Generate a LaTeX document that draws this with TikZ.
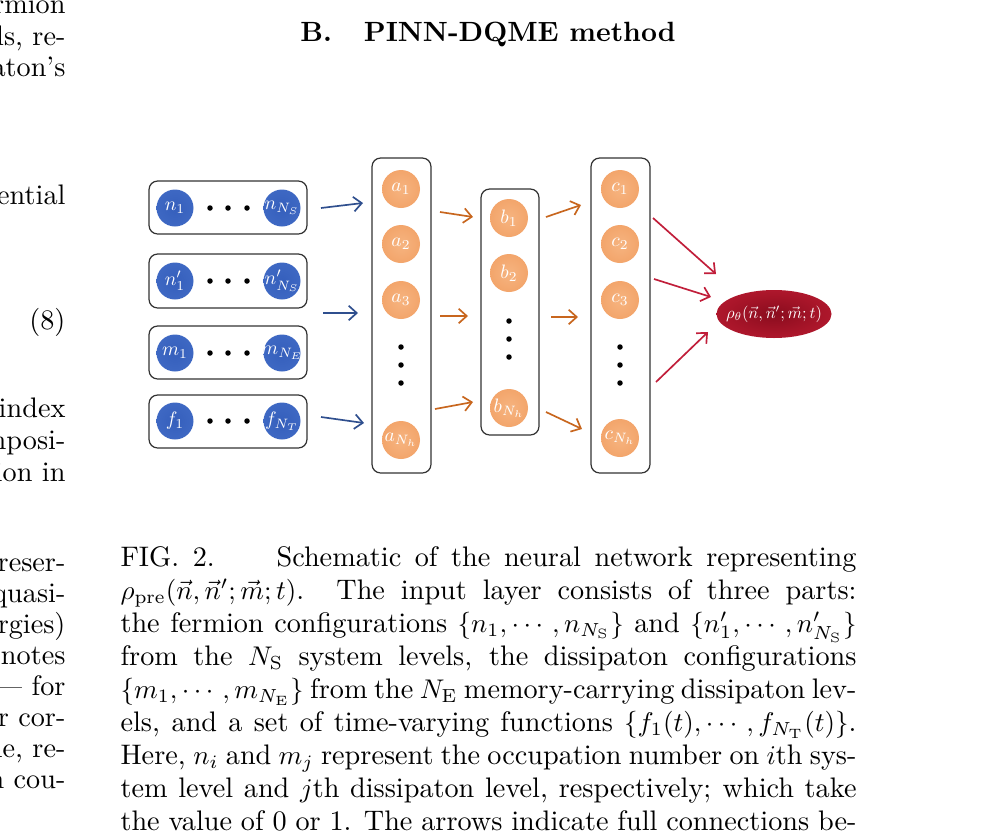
\documentclass[tikz,border=0pt]{standalone}
\usepackage{amsmath}
\usepackage{graphicx}
\usetikzlibrary{arrows.meta,shapes.geometric}
\newlength\pu \setlength\pu{0.37pt}
\definecolor{bc0}{HTML}{355FBC}
\definecolor{bc1}{HTML}{3E68C3}
\definecolor{bc2}{HTML}{567BCE}
\definecolor{bc3}{HTML}{809CDB}
\definecolor{bc4}{HTML}{BCCBED}
\definecolor{oc0}{HTML}{F6B480}
\definecolor{oc1}{HTML}{F2A267}
\definecolor{oc2}{HTML}{F09A5C}
\definecolor{oc3}{HTML}{F5BE95}
\definecolor{rc0}{HTML}{8A0C1E}
\definecolor{rc1}{HTML}{A81529}
\definecolor{rc2}{HTML}{C21F37}
\definecolor{rc3}{HTML}{CE3A50}
\definecolor{arrblue}{HTML}{2F4F8E}
\definecolor{arrorange}{HTML}{C8661E}
\definecolor{arrred}{HTML}{C11E3A}
\definecolor{boxgray}{HTML}{333333}
\pgfdeclareradialshading{blueball}{\pgfpointorigin}{color(0bp)=(bc0);color(25bp)=(bc1);color(40bp)=(bc2);color(47bp)=(bc3);color(50bp)=(bc4)}
\pgfdeclareradialshading{orangeball}{\pgfpointorigin}{color(0bp)=(oc0);color(30bp)=(oc1);color(46bp)=(oc2);color(50bp)=(oc3)}
\pgfdeclareradialshading{redball}{\pgfpointorigin}{color(0bp)=(rc0);color(20bp)=(rc1);color(42bp)=(rc2);color(50bp)=(rc3)}
\newcommand\bodyfont{\fontsize{10.45}{12.5}\selectfont}
\newcommand\capfont{\fontsize{10.45}{12.5}\selectfont}
\newcommand\capline[1]{\hbox to 736\pu{\capfont #1}}
\newcommand\zb[1]{\makebox[0pt]{\scalebox{0.72}{\fontsize{10}{12}\selectfont$#1$}}}
\tikzset{
  bball/.style={circle, minimum size=37\pu, inner sep=0pt, shading=blueball, text=white},
  oball/.style={circle, minimum size=38\pu, inner sep=0pt, shading=orangeball, text=white},
  lbox/.style={draw=boxgray, line width=0.45pt, rounded corners=3.2pt, inner sep=0pt},
  blackdot/.style={circle, fill=black, inner sep=0pt, minimum size=5.5\pu},
  conn/.style={line width=0.62pt, -{Straight Barb[length=3pt,width=5.4pt,line width=0.62pt]}},
  barr/.style={conn, draw=arrblue},
  oarr/.style={conn, draw=arrorange},
  rarr/.style={conn, draw=arrred},
  bodytext/.style={anchor=base east, inner sep=0pt, font=\bodyfont},
  capl/.style={anchor=base west, inner sep=0pt},
}
\begin{document}
\begin{tikzpicture}[x=\pu, y=-\pu]
\useasboundingbox (0,0) rectangle (1005,837);
\fill[white] (0,0) rectangle (1005,837);

% left column fragments
\node[bodytext] (l1) at (66,13) {fermion};
\node[bodytext] (l2) at (66,45) {levels, re-};
\node[bodytext] (l3) at (66,76) {dissipaton's};
\node[bodytext] (l4) at (66,204) {exponential};
\node[bodytext] (l5) at (66,329) {(8)};
\node[bodytext] (l6) at (66,417) {index};
\node[bodytext] (l7) at (66,449) {decomposi-};
\node[bodytext] (l8) at (66,481) {tion in};
\node[bodytext] (l9) at (66,571) {preser-};
\node[bodytext] (l10) at (66,602) {quasi-};
\node[bodytext] (l11) at (66,633) {energies)};
\node[bodytext] (l12) at (66,664) {denotes};
\node[bodytext] (l13) at (66,695) {--- for};
\node[bodytext] (l14) at (66,726) {or cor-};
\node[bodytext] (l15) at (66,757) {one, re-};
\node[bodytext] (l16) at (66,788) {in cou-};

% heading
\node[anchor=base, inner sep=0pt, font=\fontsize{10.3}{12}\selectfont\bfseries] (head) at (488,41) {B.\hspace{1.15em}PINN-DQME method};

% input boxes
\node[lbox, minimum width=158\pu, minimum height=53\pu] (box1) at (228,207.5) {};
\node[lbox, minimum width=158\pu, minimum height=54\pu] (box2) at (228,281) {};
\node[lbox, minimum width=158\pu, minimum height=53\pu] (box3) at (228,352.5) {};
\node[lbox, minimum width=158\pu, minimum height=53\pu] (box4) at (228,421.5) {};

\node[bball] (n1) at (175,208) {\zb{n_1}};
\node[bball] (nN) at (282,208) {\zb{n_{N_S}}};
\node[bball] (np1) at (175,281) {\zb{n'_1}};
\node[bball] (npN) at (282,281) {\zb{n'_{N_S}}};
\node[bball] (m1) at (175,353) {\zb{m_1}};
\node[bball] (mN) at (282,353) {\zb{m_{N_E}}};
\node[bball] (f1) at (175,421) {\zb{f_1}};
\node[bball] (fN) at (282,421) {\zb{f_{N_T}}};
\foreach \yy/\k in {208/a,281/b,353/c,421/d}{
  \node[blackdot] (d\k1) at (210,\yy) {};
  \node[blackdot] (d\k2) at (228,\yy) {};
  \node[blackdot] (d\k3) at (247,\yy) {};
}

% hidden layers
\node[lbox, minimum width=59\pu, minimum height=315\pu] (boxa) at (401.5,315.5) {};
\node[lbox, minimum width=58\pu, minimum height=246\pu] (boxb) at (510,312) {};
\node[lbox, minimum width=59\pu, minimum height=315\pu] (boxc) at (620.5,315.5) {};

\node[oball] (a1) at (401,189) {\zb{a_1}};
\node[oball] (a2) at (401,244) {\zb{a_2}};
\node[oball] (a3) at (401,300) {\zb{a_3}};
\node[oball] (aN) at (401,440) {\zb{a_{N_h}}};
\node[blackdot] (ad1) at (401,347) {};
\node[blackdot] (ad2) at (401,365) {};
\node[blackdot] (ad3) at (401,383) {};

\node[oball] (b1) at (509,218) {\zb{b_1}};
\node[oball] (b2) at (509,273) {\zb{b_2}};
\node[oball] (bN) at (509,408) {\zb{b_{N_h}}};
\node[blackdot] (bd1) at (509,321) {};
\node[blackdot] (bd2) at (509,339) {};
\node[blackdot] (bd3) at (509,357) {};

\node[oball] (c1) at (620,189) {\zb{c_1}};
\node[oball] (c2) at (620,244) {\zb{c_2}};
\node[oball] (c3) at (620,300) {\zb{c_3}};
\node[oball] (cN) at (620,438) {\zb{c_{N_h}}};
\node[blackdot] (cd1) at (620,347) {};
\node[blackdot] (cd2) at (620,365) {};
\node[blackdot] (cd3) at (620,383) {};

% output
\node[ellipse, minimum width=115\pu, minimum height=48\pu, inner sep=0pt, shading=redball, text=white] (out) at (774,314) {\makebox[0pt]{\resizebox{35.5pt}{!}{\fontsize{10}{12}\selectfont$\rho_\theta(\vec{n},\vec{n}';\vec{m};t)$}}};

% arrow end coordinates
\coordinate (bA1) at (321,208); \coordinate (bB1) at (363,203);
\coordinate (bA2) at (323,313); \coordinate (bB2) at (358,313);
\coordinate (bA3) at (321,417); \coordinate (bB3) at (364,423);
\coordinate (oA1) at (440,212); \coordinate (oB1) at (473,217);
\coordinate (oA2) at (440,316); \coordinate (oB2) at (468,316);
\coordinate (oA3) at (435,409); \coordinate (oB3) at (473,402);
\coordinate (oC1) at (546,217); \coordinate (oD1) at (581,205);
\coordinate (oC2) at (551,317); \coordinate (oD2) at (578,317);
\coordinate (oC3) at (546,412); \coordinate (oD3) at (582,429);
\coordinate (rA1) at (653,218); \coordinate (rB1) at (716,274);
\coordinate (rA2) at (654,279); \coordinate (rB2) at (711,297);
\coordinate (rA3) at (656,382); \coordinate (rB3) at (708,332);

\draw[barr] (bA1) -- (bB1);
\draw[barr] (bA2) -- (bB2);
\draw[barr] (bA3) -- (bB3);
\draw[oarr] (oA1) -- (oB1);
\draw[oarr] (oA2) -- (oB2);
\draw[oarr] (oA3) -- (oB3);
\draw[oarr] (oC1) -- (oD1);
\draw[oarr] (oC2) -- (oD2);
\draw[oarr] (oC3) -- (oD3);
\draw[rarr] (rA1) -- (rB1);
\draw[rarr] (rA2) -- (rB2);
\draw[rarr] (rA3) -- (rB3);

% caption
\node[capl] (cap1) at (120,566) {\capline{FIG.~2.\hspace{1.3em} Schematic of the neural network representing}};
\node[capl] (cap2) at (120,599.1) {\capline{$\rho_{\mathrm{pre}}(\vec{n},\vec{n}';\vec{m};t)$. The input layer consists of three parts:}};
\node[capl] (cap3) at (120,632.2) {\capline{the fermion configurations $\{n_1,\cdots,n_{N_{\mathrm{S}}}\}$ and $\{n'_1,\cdots,n'_{N_{\mathrm{S}}}\}$}};
\node[capl] (cap4) at (120,665.3) {\capline{from the $N_{\mathrm{S}}$ system levels, the dissipaton configurations}};
\node[capl] (cap5) at (120,698.4) {\capline{$\{m_1,\cdots,m_{N_{\mathrm{E}}}\}$ from the $N_{\mathrm{E}}$ memory-carrying dissipaton lev-}};
\node[capl] (cap6) at (120,731.5) {\capline{els, and a set of time-varying functions $\{f_1(t),\cdots,f_{N_{\mathrm{T}}}(t)\}$.}};
\node[capl] (cap7) at (120,764.6) {\capline{Here, $n_i$ and $m_j$ represent the occupation number on $i$th sys-}};
\node[capl] (cap8) at (120,797.7) {\capline{tem level and $j$th dissipaton level, respectively; which take}};
\node[capl] (cap9) at (120,830.8) {\capline{the value of 0 or 1. The arrows indicate full connections be-}};
\end{tikzpicture}
\end{document}
